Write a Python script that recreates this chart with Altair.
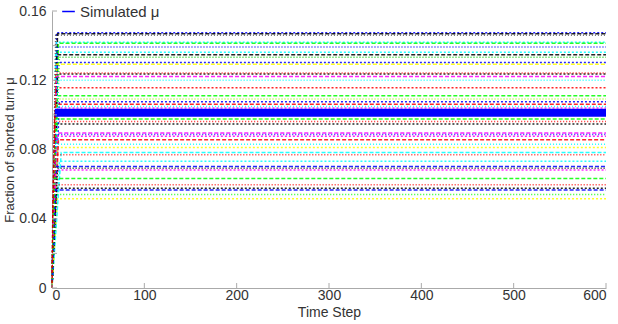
import altair as alt
import pandas as pd

# Horizontal levels of the simulated fraction
levels = [0.1475, 0.1468, 0.1460, 0.1420, 0.1414, 0.1392, 0.1362, 0.1348, 0.1333,
          0.1303, 0.1292, 0.1242, 0.1236, 0.1222, 0.1200, 0.1156, 0.1110, 0.1092,
          0.1076, 0.1062, 0.1048, 0.1040, 0.0976, 0.0962, 0.0948, 0.0896, 0.0886,
          0.0876, 0.0856, 0.0830, 0.0812, 0.0782, 0.0770, 0.0732, 0.0702, 0.0692,
          0.0682, 0.0632, 0.0596, 0.0576, 0.0566, 0.0540, 0.0516]
colors = ["#0000ff", "#000000", "#555555", "#00ffff", "#00ff00", "#0000ff", "#00ffff",
          "#000000", "#00cc00", "#0000ff", "#ffff00", "#ff0000", "#000000", "#ff00ff",
          "#00ffff", "#ff0000", "#00ff00", "#99ff00", "#0000ff", "#ff0000", "#00ffff",
          "#ff00ff", "#00ff00", "#ff0000", "#000000", "#ff00ff", "#0000ff", "#ff00ff",
          "#ff0000", "#00ffff", "#ffff00", "#00ffff", "#ff0000", "#00ffff", "#0000ff",
          "#000000", "#ff00ff", "#00ff00", "#ff0000", "#000000", "#0000ff", "#00ff00",
          "#ffff00"]
dash_style = [0, 1, 2, 0, 1, 2, 0, 1, 2, 0, 1, 2, 0, 1, 2, 0, 1, 2, 0, 1, 2, 0,
              1, 2, 0, 1, 2, 0, 1, 2, 0, 1, 2, 0, 1, 2, 0, 1, 2, 0, 1, 2, 0]
rise_step = [5, 6, 4, 5, 7, 6, 4, 5, 8, 6, 5, 4, 6, 5, 7, 4, 6, 5, 8, 4, 6, 5,
             4, 3, 5, 6, 4, 5, 7, 3, 6, 10, 4, 8, 5, 6, 4, 3, 2, 5, 4, 3, 6]

# Thick main simulated trace (starts once settled)
main_level = 0.1012
main_start = 3
final_step = 600

x_ticks = [0, 100, 200, 300, 400, 500, 600]
y_ticks = [0, 0.02, 0.04, 0.06, 0.08, 0.1, 0.12, 0.14, 0.16]

rows = []
for i, (lv, c, d, r) in enumerate(zip(levels, colors, dash_style, rise_step)):
    for t, v in [(0, 0.0), (r, lv), (final_step, lv)]:
        rows.append({"id": i, "t": t, "v": v, "col": c, "dash": d})
df = pd.DataFrame(rows)

# thin red dashed start-up trace at the very beginning
rise_df = pd.DataFrame({"t": [0, 1, 3], "v": [0.0, 0.05, 0.1]})

main_df = pd.DataFrame({"t": [main_start, final_step],
                        "v": [main_level, main_level],
                        "name": ["Simulated μ"] * 2})

xs = alt.Scale(domain=[0, 600], nice=False)
ys = alt.Scale(domain=[0, 0.16], nice=False)

dash_patterns = [[2, 2], [4, 2], [1, 2]]
layers = []
for d, pat in enumerate(dash_patterns):
    layers.append(
        alt.Chart(df).transform_filter(alt.datum.dash == d)
        .mark_line(strokeWidth=1.5, opacity=0.85, strokeDash=pat)
        .encode(
            x=alt.X("t:Q", scale=xs,
                    axis=alt.Axis(values=x_ticks, title="Time Step", ticks=False,
                                  labelPadding=0, titlePadding=3, grid=False)),
            y=alt.Y("v:Q", scale=ys,
                    axis=alt.Axis(values=y_ticks, format="~g",
                                  title="Fraction of shorted turn μ", ticks=False,
                                  labelPadding=6, titlePadding=2, titleFontSize=13,
                                  grid=False)),
            stroke=alt.Stroke("col:N", scale=None),
            detail="id:N",
        )
    )

rise = alt.Chart(rise_df).mark_line(strokeWidth=1.5, color="#cc0000", strokeDash=[3, 2]).encode(
    x=alt.X("t:Q", scale=xs), y=alt.Y("v:Q", scale=ys))

main = alt.Chart(main_df).mark_line(strokeWidth=8).encode(
    x=alt.X("t:Q", scale=xs),
    y=alt.Y("v:Q", scale=ys),
    color=alt.Color("name:N", scale=alt.Scale(domain=["Simulated μ"], range=["#0000ff"]),
                    legend=alt.Legend(title=None, orient="none", legendX=7, legendY=-9,
                                      symbolType="stroke", symbolStrokeWidth=1.5,
                                      symbolSize=160, labelFontSize=15,
                                      labelFont="Liberation Sans", labelColor="#333333",
                                      fillColor="white", padding=2)),
)

# Inward tick marks (MATLAB style)
xt_df = pd.DataFrame({"t": x_ticks})
yt_df = pd.DataFrame({"v": y_ticks})
xtick = alt.Chart(xt_df).mark_rule(color="#aaaaaa").encode(
    x="t:Q", y=alt.value(277), y2=alt.value(272))
ytick = alt.Chart(yt_df).mark_rule(color="#aaaaaa").encode(
    y="v:Q", x=alt.value(0), x2=alt.value(5))

chart = alt.layer(*layers, rise, main, xtick, ytick).properties(
    width=554, height=277,
    autosize=alt.AutoSizeParams(type="none"),
    padding={"left": 52, "top": 11, "right": 12, "bottom": 36},
).configure_view(stroke=None).configure_axis(
    domainColor="#aaaaaa", labelColor="#333333", titleColor="#333333",
    labelFont="Liberation Sans", titleFont="Liberation Sans",
    labelFontSize=14, titleFontSize=14, titleFontWeight="normal",
)

chart.save("out.html", embed_options={"renderer": "svg", "actions": False})
